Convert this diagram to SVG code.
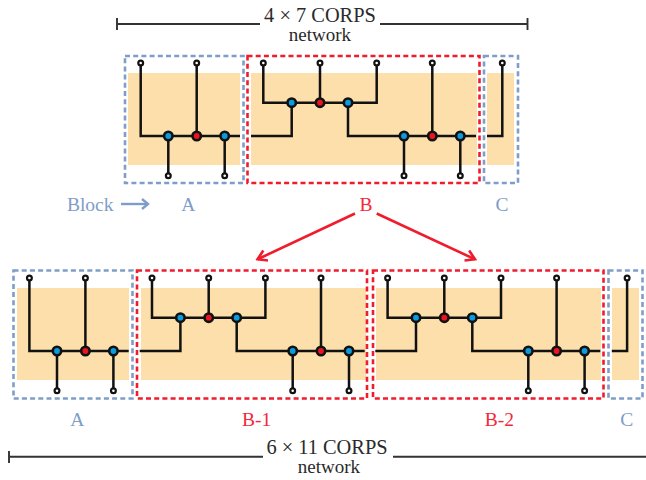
<svg xmlns="http://www.w3.org/2000/svg" width="646" height="480" viewBox="0 0 646 480">
<style>
text{font-family:"Liberation Serif","Times New Roman",serif;text-anchor:middle}
.t{font-size:20.4px;fill:#2a2a2a}
.n{font-size:19px;fill:#2a2a2a}
.lb{font-size:19.500px;fill:#7f9dc9}
.lr{font-size:19.500px;fill:#f3283a}
.rule{fill:none;stroke:#333;stroke-width:1.900}
.or{fill:#fddfab}
.w{fill:none;stroke:#111;stroke-width:2.500}
.bb{fill:none;stroke:#7f9dc9;stroke-width:2.600;stroke-dasharray:5 3.200}
.rb{fill:none;stroke:#f01c2c;stroke-width:2.600;stroke-dasharray:5 3.200}
.s{fill:#fff;stroke:#111;stroke-width:2.200}
.cb{fill:#0a9be0;stroke:#111;stroke-width:2.600}
.cr{fill:#ea1422;stroke:#111;stroke-width:2.600}
</style>
<defs>
<marker id="ar" markerWidth="14" markerHeight="14" refX="12" refY="7" orient="auto" markerUnits="userSpaceOnUse"><path d="M3 1.500L12 7L3 12.500" fill="none" stroke="#f01c2c" stroke-width="2.600"/></marker>
<marker id="ab" markerWidth="14" markerHeight="14" refX="11" refY="7" orient="auto" markerUnits="userSpaceOnUse"><path d="M5 2L11 7L5 12" fill="none" stroke="#7f9dc9" stroke-width="2.400"/></marker>
<g id="wa"><path class="w" d="M140.700 63V136H240M168.300 136V175.700M196.700 63V136M224.700 136V175.700"/></g>
<g id="wb"><path class="w" d="M251 136H291.700V102.700M263.300 63V102.700H376.700V63M320 63V102.700M348 102.700V136H476M404 136V175.700M432.300 63V136M460.300 136V175.700"/></g>
<g id="wc"><path class="w" d="M487 136H502.300V63"/></g>
<g id="da">
<circle class="s" cx="140.700" cy="63" r="2.400"/><circle class="s" cx="196.700" cy="63" r="2.400"/><circle class="s" cx="168.300" cy="175.700" r="2.400"/><circle class="s" cx="224.700" cy="175.700" r="2.400"/>
<circle class="cb" cx="168.300" cy="136" r="4.200"/><circle class="cr" cx="196.700" cy="136" r="4.200"/><circle class="cb" cx="224.700" cy="136" r="4.200"/>
</g>
<g id="db">
<circle class="s" cx="263.300" cy="63" r="2.400"/><circle class="s" cx="320" cy="63" r="2.400"/><circle class="s" cx="376.700" cy="63" r="2.400"/><circle class="s" cx="432.300" cy="63" r="2.400"/><circle class="s" cx="404" cy="175.700" r="2.400"/><circle class="s" cx="460.300" cy="175.700" r="2.400"/>
<circle class="cb" cx="291.700" cy="102.700" r="4.200"/><circle class="cr" cx="320" cy="102.700" r="4.200"/><circle class="cb" cx="348" cy="102.700" r="4.200"/>
<circle class="cb" cx="404" cy="136" r="4.200"/><circle class="cr" cx="432.300" cy="136" r="4.200"/><circle class="cb" cx="460.300" cy="136" r="4.200"/>
</g>
<g id="dc"><circle class="s" cx="502.300" cy="63" r="2.400"/></g>
</defs>

<g id="bands">
<rect class="or" x="128" y="73" width="112" height="92"/>
<rect class="or" x="251" y="73" width="226" height="92"/>
<rect class="or" x="487" y="73" width="27" height="92"/>
<rect class="or" x="17" y="288" width="112" height="92"/>
<rect class="or" x="141" y="288" width="225" height="92"/>
<rect class="or" x="376" y="288" width="225" height="92"/>
<rect class="or" x="612" y="288" width="27" height="92"/>
</g>

<g id="connectors">
<use href="#wa"/><use href="#wb"/><use href="#wc"/>
<use href="#wa" transform="translate(-111.300 215)"/>
<use href="#wb" transform="translate(-111.300 215)"/>
<use href="#wb" transform="translate(124.300 215)"/>
<use href="#wc" transform="translate(124.800 215)"/>
<path fill="none" stroke="#f01c2c" stroke-width="2.600" marker-end="url(#ar)" d="M355 213.500L257.500 259.300"/>
<path fill="none" stroke="#f01c2c" stroke-width="2.600" marker-end="url(#ar)" d="M376.700 213.500L475 259.300"/>
<path fill="none" stroke="#7f9dc9" stroke-width="2.400" marker-end="url(#ab)" d="M121 204H148"/>
</g>

<g id="top-scale">
<path class="rule" d="M117 18V30M117 24H260M380 24H527.500M527.500 18V30"/>
<text class="t" x="320" y="21.500">4 × 7 CORPS</text>
<text class="n" x="320" y="41">network</text>
</g>

<g id="block-A-top"><use href="#da"/><rect class="bb" x="125" y="56" width="118.500" height="127"/><text class="lb" x="188.300" y="210.700">A</text></g>
<g id="block-B-top"><use href="#db"/><rect class="rb" x="247.500" y="56" width="232" height="127"/><text class="lr" x="366" y="210.700">B</text></g>
<g id="block-C-top"><use href="#dc"/><rect class="bb" x="484" y="56" width="34" height="127"/><text class="lb" x="502" y="210.700">C</text></g>
<g id="block-key"><text class="lb" x="90.200" y="210.700">Block</text></g>

<g id="block-A-bottom"><use href="#da" transform="translate(-111.300 215)"/><rect class="bb" x="13.500" y="270.500" width="119" height="128"/><text class="lb" x="77.300" y="425.700">A</text></g>
<g id="block-B1"><use href="#db" transform="translate(-111.300 215)"/><rect class="rb" x="137" y="270.500" width="230" height="128"/><text class="lr" x="256.700" y="425.700">B-1</text></g>
<g id="block-B2"><use href="#db" transform="translate(124.300 215)"/><rect class="rb" x="373" y="270.500" width="230.500" height="128"/><text class="lr" x="499.300" y="425.700">B-2</text></g>
<g id="block-C-bottom"><use href="#dc" transform="translate(124.800 215)"/><rect class="bb" x="608.500" y="270.500" width="34" height="128"/><text class="lb" x="626.700" y="425.700">C</text></g>

<g id="bottom-scale">
<path class="rule" d="M9 451V463M9 456.700H263M393 456.700H646"/>
<text class="t" x="327" y="454">6 × 11 CORPS</text>
<text class="n" x="329" y="473">network</text>
</g>
</svg>
